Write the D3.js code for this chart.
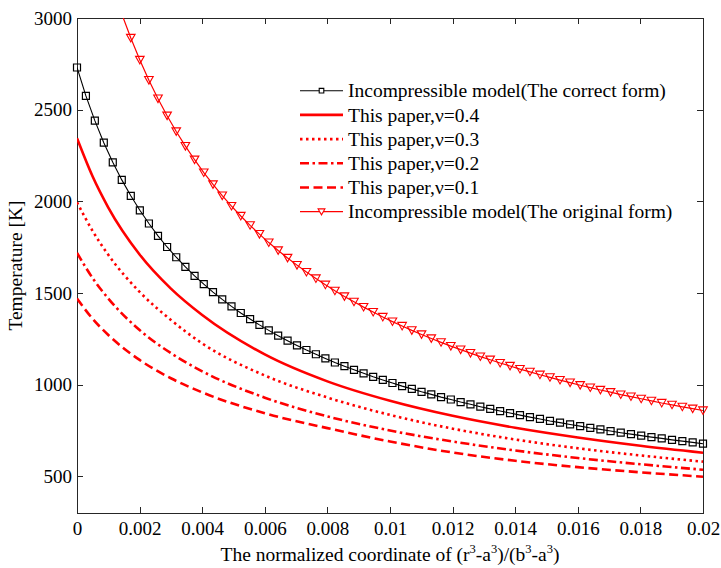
<!DOCTYPE html>
<html>
<head>
<meta charset="utf-8">
<script src="https://cdn.jsdelivr.net/npm/d3@7"></script>
<style>
  body { margin: 0; background: #fff; }
  text { font-family: "Liberation Serif", "Times New Roman", serif; fill: #000; }
</style>
</head>
<body>
<div id="chart"></div>
<script>
// sample positions of the marker curves (non-uniform, as read off the markers)
var markerX = [
  0, 0.0002847, 0.0005701, 0.0008562, 0.0011431, 0.0014306, 0.0017188, 0.0020077,
  0.0022974, 0.0025877, 0.0028787, 0.0031705, 0.003463, 0.0037562, 0.00405, 0.0043446,
  0.00464, 0.004936, 0.0052327, 0.0055301, 0.0058283, 0.0061272, 0.0064268, 0.0067272,
  0.0070282, 0.00733, 0.0076325, 0.0079357, 0.0082396, 0.0085442, 0.0088497, 0.0091558,
  0.0094626, 0.0097702, 0.0100784, 0.0103875, 0.0106973, 0.0110077, 0.0113189, 0.0116308,
  0.0119436, 0.012257, 0.0125711, 0.012886, 0.0132016, 0.013518, 0.0138351, 0.0141529,
  0.0144715, 0.0147908, 0.0151109, 0.0154317, 0.0157532, 0.0160756, 0.0163986, 0.0167224,
  0.0170469, 0.0173722, 0.0176982, 0.018025, 0.0183525, 0.0186808, 0.0190099, 0.0193397,
  0.0196702, 0.02,
];

// Incompressible model (The correct form)
var correctT = [
  2730, 2575, 2440, 2320, 2213, 2117, 2030, 1951, 1879, 1812, 1751, 1695, 1642, 1593,
  1548, 1505, 1465, 1427, 1391, 1358, 1326, 1296, 1267, 1240, 1214, 1189, 1166, 1143,
  1121, 1101, 1081, 1062, 1043, 1026, 1009, 992, 977, 961, 947, 932, 919, 905, 893, 880,
  868, 856, 845, 834, 823, 813, 802, 793, 783, 774, 764, 756, 747, 738, 730, 722, 714,
  707, 699, 692, 685, 678,
];

// Incompressible model (The original form) - first points are above the axis
var originalT = [
  null, null, null, null, null,
  3022, 2891, 2771, 2661, 2560, 2467, 2381, 2301, 2227, 2157, 2092, 2031, 1974, 1920,
  1869, 1821, 1775, 1732, 1691, 1652, 1614, 1579, 1545, 1512, 1481, 1452, 1423, 1396,
  1369, 1344, 1320, 1296, 1274, 1252, 1231, 1210, 1191, 1172, 1153, 1136, 1118, 1102,
  1085, 1070, 1054, 1040, 1025, 1011, 997, 984, 971, 959, 946, 935, 923, 912, 900, 890,
  879, 869, 859,
];

// this paper, different poisson ratios
var paperX = [0, 0.0005, 0.001, 0.002, 0.003, 0.004, 0.006, 0.008, 0.01, 0.012, 0.014, 0.016, 0.018, 0.02];
var nu04 = [2344, 2135, 1966, 1710, 1524, 1380, 1165, 1018, 912, 830, 765, 712, 667, 629];
var nu03 = [1995, 1838, 1708, 1506, 1353, 1225, 1050, 930, 835, 760, 701, 653, 614, 580];
var nu02 = [1719, 1581, 1470, 1298, 1172, 1073, 929, 827, 750, 690, 641, 600, 566, 536];
var nu01 = [1470, 1359, 1271, 1135, 1035, 958, 844, 763, 690, 630, 585, 550, 522, 498];

var xTicks = [0, 0.002, 0.004, 0.006, 0.008, 0.01, 0.012, 0.014, 0.016, 0.018, 0.02];
var xTickLabels = ["0", "0.002", "0.004", "0.006", "0.008", "0.01", "0.012", "0.014", "0.016", "0.018", "0.02"];
var yTicks = [500, 1000, 1500, 2000, 2500, 3000];
var yTickLabels = ["500", "1000", "1500", "2000", "2500", "3000"];
var legendLabels = [
  "Incompressible model(The correct form)",
  "This paper,\u03bd=0.4",
  "This paper,\u03bd=0.3",
  "This paper,\u03bd=0.2",
  "This paper,\u03bd=0.1",
  "Incompressible model(The original form)",
];

const width = 626;
const height = 495;
const margin = { top: 18, right: 18, bottom: 55, left: 77 };
const red = "#ff0000";

const svg = d3
  .select("#chart")
  .append("svg")
  .attr("width", width + margin.left + margin.right)
  .attr("height", height + margin.top + margin.bottom);

const g = svg
  .append("g")
  .attr("transform", "translate(" + margin.left + "," + margin.top + ")");

const x = d3.scaleLinear().domain([0, 0.02]).range([0, width]);
const y = d3.scaleLinear().domain([300, 3000]).range([height, 0]);

g.append("clipPath")
  .attr("id", "plot-clip")
  .append("rect")
  .attr("width", width)
  .attr("height", height);

// axes, ticks pointing inwards like matlab
function styleAxis(sel) {
  sel.selectAll("path, line").attr("stroke", "#262626").attr("shape-rendering", "crispEdges");
  sel.selectAll("text").attr("font-size", 19).attr("fill", "#000");
}

g.append("g")
  .attr("transform", "translate(0," + height + ")")
  .call(d3.axisBottom(x).tickValues(xTicks).tickFormat(function (d, i) { return xTickLabels[i]; })
    .tickSizeInner(-6).tickSizeOuter(0).tickPadding(9))
  .call(styleAxis);

g.append("g")
  .call(d3.axisTop(x).tickValues(xTicks).tickFormat("").tickSizeInner(-6).tickSizeOuter(0))
  .call(styleAxis);

g.append("g")
  .call(d3.axisLeft(y).tickValues(yTicks).tickFormat(function (d, i) { return yTickLabels[i]; })
    .tickSizeInner(-6).tickSizeOuter(0).tickPadding(5))
  .call(styleAxis);

g.append("g")
  .attr("transform", "translate(" + width + ",0)")
  .call(d3.axisRight(y).tickValues(yTicks).tickFormat("").tickSizeInner(-6).tickSizeOuter(0))
  .call(styleAxis);

g.selectAll(".domain").attr("stroke-width", 1);

// data series
function zipData(xs, ys) {
  return xs.map(function (v, i) { return [v, ys[i]]; });
}

var paperSeries = [
  { data: zipData(paperX, nu04), dash: null },
  { data: zipData(paperX, nu03), dash: "2.5,3.5" },
  { data: zipData(paperX, nu02), dash: "9,3.5,2.5,3.5" },
  { data: zipData(paperX, nu01), dash: "9,4.5" },
];

var smoothLine = d3
  .line()
  .curve(d3.curveMonotoneX)
  .x(function (d) { return x(d[0]); })
  .y(function (d) { return y(d[1]); });

var markerLine = d3
  .line()
  .defined(function (d) { return d[1] != null; })
  .x(function (d) { return x(d[0]); })
  .y(function (d) { return y(d[1]); });

const plot = g.append("g");
const lines = plot.append("g").attr("clip-path", "url(#plot-clip)");

paperSeries.forEach(function (s) {
  lines
    .append("path")
    .datum(s.data)
    .attr("fill", "none")
    .attr("stroke", red)
    .attr("stroke-width", 2.6)
    .attr("stroke-dasharray", s.dash)
    .attr("d", smoothLine);
});

var correctData = zipData(markerX, correctT);
var originalData = zipData(markerX, originalT);

lines
  .append("path")
  .datum(correctData)
  .attr("fill", "none")
  .attr("stroke", "#000")
  .attr("stroke-width", 1.1)
  .attr("d", markerLine);

lines
  .append("path")
  .datum(originalData)
  .attr("fill", "none")
  .attr("stroke", red)
  .attr("stroke-width", 1.2)
  .attr("d", markerLine);

var squarePath = "M-3.5,-3.5h7v7h-7z";
var trianglePath = "M-4.3,-3.6L4.3,-3.6L0,3.9Z";

plot
  .selectAll(".sq")
  .data(correctData.filter(function (d) { return d[1] <= 3000; }))
  .enter()
  .append("path")
  .attr("class", "sq")
  .attr("d", squarePath)
  .attr("transform", function (d) { return "translate(" + x(d[0]) + "," + y(d[1]) + ")"; })
  .attr("fill", "none")
  .attr("stroke", "#000")
  .attr("stroke-width", 1.2);

plot
  .selectAll(".tri")
  .data(originalData.filter(function (d) { return d[1] != null && d[1] <= 3000; }))
  .enter()
  .append("path")
  .attr("class", "tri")
  .attr("d", trianglePath)
  .attr("transform", function (d) { return "translate(" + x(d[0]) + "," + y(d[1]) + ")"; })
  .attr("fill", "none")
  .attr("stroke", red)
  .attr("stroke-width", 1.1);

// legend
var legendStyles = [
  { color: "#000", width: 1.1, dash: null, marker: "M-2.3,-2.3h4.6v4.6h-4.6z" },
  { color: red, width: 2.6, dash: null },
  { color: red, width: 2.6, dash: "2.5,3.5" },
  { color: red, width: 2.6, dash: "9,3.5,2.5,3.5" },
  { color: red, width: 2.6, dash: "9,4.5" },
  { color: red, width: 1.2, dash: null, marker: "M-3.4,-2.8L3.4,-2.8L0,3.1Z" },
];

const legend = svg.append("g").attr("transform", "translate(300,90.7)");

legendLabels.forEach(function (label, i) {
  var st = legendStyles[i];
  var row = legend.append("g").attr("transform", "translate(0," + i * 24.2 + ")");
  row
    .append("line")
    .attr("x1", 0)
    .attr("x2", 43)
    .attr("stroke", st.color)
    .attr("stroke-width", st.width)
    .attr("stroke-dasharray", st.dash);
  if (st.marker) {
    row
      .append("path")
      .attr("d", st.marker)
      .attr("transform", "translate(21.5,0)")
      .attr("fill", "#fff")
      .attr("stroke", st.color)
      .attr("stroke-width", 1.1);
  }
  row
    .append("text")
    .attr("x", 48)
    .attr("dy", "0.34em")
    .attr("font-size", 19.5)
    .text(label);
});

// axis labels
svg
  .append("text")
  .attr("transform", "translate(22," + (margin.top + height / 2) + ") rotate(-90)")
  .attr("text-anchor", "middle")
  .attr("font-size", 19.5)
  .text("Temperature [K]");

var xLabel = svg
  .append("text")
  .attr("x", margin.left + width / 2)
  .attr("y", 561)
  .attr("text-anchor", "middle")
  .attr("font-size", 19.5);

[["The normalized coordinate of (r", false], ["3", true], ["-a", false], ["3", true],
 [")/(b", false], ["3", true], ["-a", false], ["3", true], [")", false]].forEach(function (p, i, arr) {
  var prevSup = i > 0 && arr[i - 1][1];
  xLabel
    .append("tspan")
    .attr("dy", p[1] ? -8 : prevSup ? 8 : 0)
    .attr("font-size", p[1] ? 12.5 : 19.5)
    .text(p[0]);
});
</script>
</body>
</html>
